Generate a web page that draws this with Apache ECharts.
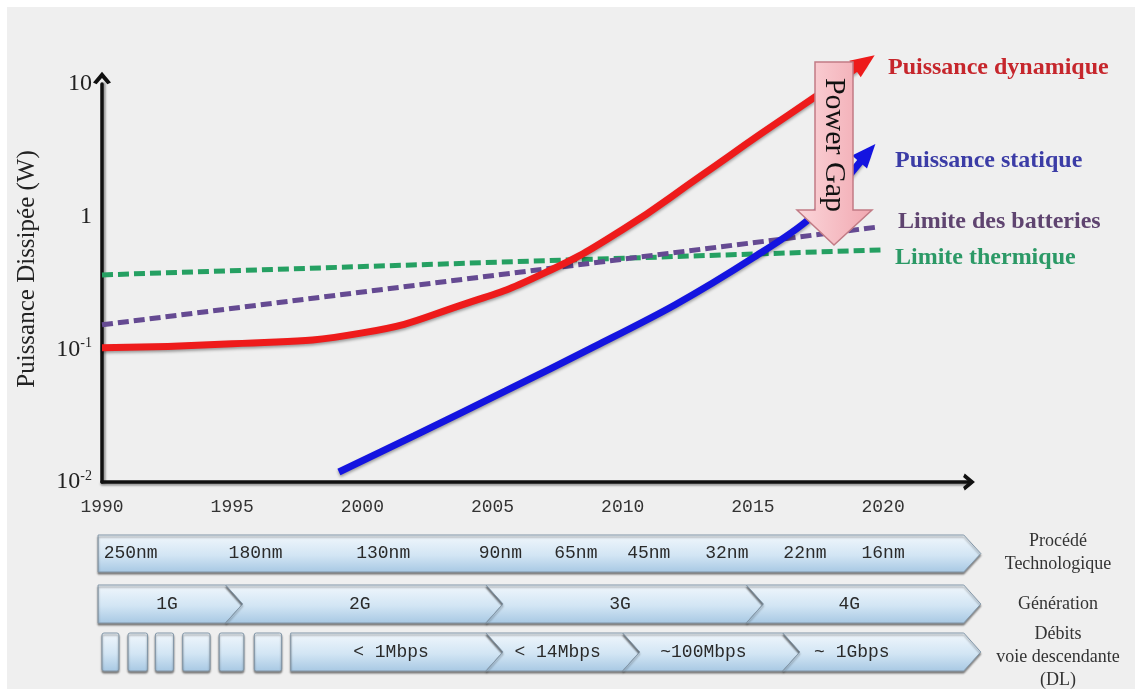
<!DOCTYPE html>
<html>
<head>
<meta charset="utf-8">
<title>Puissance dissipée</title>
<script src="https://cdn.jsdelivr.net/npm/echarts@6/dist/echarts.min.js"></script>
<style>
html, body { margin: 0; padding: 0; background: #fff; }
#main { width: 1135px; height: 689px; }
</style>
</head>
<body>
<div id="main"></div>
<script>
// courbes : années et puissance (W)
const dynYears = [1990, 1995, 2000, 2004, 2007, 2010, 2013, 2015.3, 2017.5, 2019.3];
const dynValues = [0.103, 0.110, 0.133, 0.222, 0.377, 0.80, 2.03, 4.2, 8.27, 14.6];
const statYears = [1999.1, 2002, 2005.5, 2009, 2012, 2015, 2017.2, 2019.4];
const statValues = [0.0119, 0.0224, 0.0486, 0.107, 0.216, 0.489, 0.977, 3.02];
const battYears = [1990, 2019.8];
const battValues = [0.153, 0.836];
const thermYears = [1990, 2019.9];
const thermValues = [0.364, 0.561];

// bandeaux du bas
const nodeLabels = ['250nm', '180nm', '130nm', '90nm', '65nm', '45nm', '32nm', '22nm', '16nm'];
const nodeYears = [1991.1, 1995.9, 2000.8, 2005.3, 2008.2, 2011.0, 2014.0, 2017.0, 2020.0];
const techSpan = [1989.85, 2023.1];
const genLabels = ['1G', '2G', '3G', '4G'];
const genBounds = [1989.85, 1994.75, 2004.75, 2014.75, 2023.1];
const genLabelYears = [1992.5, 1999.9, 2009.9, 2018.7];
const rateBoxes = [[1990.0, 1990.65], [1991.0, 1991.75], [1992.05, 1992.75], [1993.1, 1994.15], [1994.5, 1995.45], [1995.85, 1996.9]];
const rateLabels = ['< 1Mbps', '< 14Mbps', '~100Mbps', '~ 1Gbps'];
const rateBounds = [1997.25, 2004.75, 2010.0, 2016.15, 2023.1];
const rateLabelYears = [2001.1, 2007.5, 2013.1, 2018.8];

const SERIF = "'Liberation Serif', 'Times New Roman', serif";
const MONO = "'Liberation Mono', 'Courier New', monospace";

// la dernière valeur porte une pointe de flèche orientée selon le dernier segment
function lineData(xs, ys, rot) {
  return xs.map((x, i) => {
    if (i < xs.length - 1 || rot == null) return [x, ys[i]];
    return { value: [x, ys[i]], symbol: 'triangle', symbolSize: [20, 24], symbolRotate: rot };
  });
}

function headAngle(si, xs, ys) {
  const n = xs.length;
  const a = chart.convertToPixel({ seriesIndex: si }, [xs[n - 2], ys[n - 2]]);
  const b = chart.convertToPixel({ seriesIndex: si }, [xs[n - 1], ys[n - 1]]);
  return Math.atan2(a[1] - b[1], b[0] - a[0]) * 180 / Math.PI - 90;
}

const chart = echarts.init(document.getElementById('main'));

const option = {
  backgroundColor: '#efefef',
  animation: false,
  grid: { left: 102, right: 166, top: 84, bottom: 207 },
  xAxis: {
    type: 'value',
    min: 1990,
    max: 2023.3,
    interval: 5,
    splitLine: { show: false },
    axisTick: { show: false },
    axisLine: {
      onZero: false,
      symbol: ['none', 'path://M0,12 L10,0 L20,12 L16,14 L10,7 L4,14 Z'],
      symbolSize: [17, 14],
      lineStyle: { color: '#111', width: 3.5, shadowColor: 'rgba(0,0,0,0.35)', shadowOffsetY: 2, shadowBlur: 2 }
    },
    axisLabel: {
      margin: 16,
      fontFamily: MONO,
      fontSize: 18,
      color: '#333',
      showMaxLabel: false,
      formatter: v => (v % 5 === 0 ? String(v) : '')
    }
  },
  yAxis: {
    type: 'log',
    logBase: 10,
    min: 0.01,
    max: 10,
    splitLine: { show: false },
    axisTick: { show: false },
    axisLine: {
      symbol: ['none', 'path://M0,12 L10,0 L20,12 L16,14 L10,7 L4,14 Z'],
      symbolSize: [18, 15],
      symbolOffset: [0, 6],
      lineStyle: { color: '#111', width: 3.5, shadowColor: 'rgba(0,0,0,0.35)', shadowOffsetX: 2, shadowBlur: 2 }
    },
    name: 'Puissance Dissipée (W)',
    nameLocation: 'middle',
    nameRotate: 90,
    nameGap: 62,
    nameTextStyle: { fontFamily: SERIF, fontSize: 25, color: '#222', padding: [0, 0, 0, 28] },
    axisLabel: {
      margin: 10,
      formatter: function (v) {
        const e = Math.round(Math.log10(v));
        if (e >= 0) return '{b|' + Math.pow(10, e) + '}';
        return '{b|10}{s|' + e + '}';
      },
      rich: {
        b: { fontFamily: SERIF, fontSize: 24, color: '#222', lineHeight: 26 },
        s: { fontFamily: SERIF, fontSize: 14, color: '#222', verticalAlign: 'top', lineHeight: 14 }
      }
    }
  },
  series: [
    {
      name: 'Limite thermique',
      type: 'line',
      data: lineData(thermYears, thermValues),
      symbol: 'none',
      lineStyle: { color: '#25a062', width: 5, type: [11, 5] },
      z: 2
    },
    {
      name: 'Limite des batteries',
      type: 'line',
      data: lineData(battYears, battValues),
      symbol: 'none',
      lineStyle: { color: '#654a92', width: 5, type: [11, 5] },
      z: 2
    },
    {
      name: 'Puissance statique',
      type: 'line',
      data: lineData(statYears, statValues),
      smooth: 0.3,
      symbol: 'none',
      clip: false,
      itemStyle: { color: '#1414e0' },
      lineStyle: { color: '#1414e0', width: 7, shadowColor: 'rgba(0,0,0,0.35)', shadowBlur: 3, shadowOffsetY: 2 },
      z: 3
    },
    {
      name: 'Puissance dynamique',
      type: 'line',
      data: lineData(dynYears, dynValues),
      smooth: 0.5,
      symbol: 'none',
      clip: false,
      itemStyle: { color: '#ee1b1b' },
      lineStyle: { color: '#ee1b1b', width: 7, shadowColor: 'rgba(0,0,0,0.35)', shadowBlur: 3, shadowOffsetY: 2 },
      z: 4
    }
  ]
};

chart.setOption(option);

// pointes de flèche des deux courbes de puissance
chart.setOption({
  series: [
    {},
    {},
    { data: lineData(statYears, statValues, headAngle(2, statYears, statValues)) },
    { data: lineData(dynYears, dynValues, headAngle(3, dynYears, dynValues)) }
  ]
});

// ---- éléments graphiques : bandeaux, étiquettes, flèche "Power Gap"
const px = yr => chart.convertToPixel({ xAxisIndex: 0 }, yr);
const rows = [{ top: 535, h: 37 }, { top: 585, h: 38 }, { top: 633, h: 38 }];
const D = 17;

const bandStyle = {
  fill: new echarts.graphic.LinearGradient(0, 0, 0, 1, [
    { offset: 0, color: '#f1f7fc' },
    { offset: 0.55, color: '#d2e5f4' },
    { offset: 1, color: '#a7c8e3' }
  ]),
  stroke: '#8397a8',
  lineWidth: 1,
  shadowColor: 'rgba(0,0,0,0.45)',
  shadowOffsetY: 2,
  shadowBlur: 2
};

function chevron(y0, y1, row, notch) {
  const x0 = px(y0), x1 = px(y1);
  const top = row.top, bot = row.top + row.h, mid = row.top + row.h / 2;
  const pts = [[x0, top], [x1, top], [x1 + D, mid], [x1, bot], [x0, bot]];
  if (notch) pts.push([x0 + D, mid]);
  return { type: 'polygon', shape: { points: pts }, style: bandStyle, z: 10, silent: true };
}

function bandText(text, yr, row) {
  return {
    type: 'text', x: px(yr), y: row.top + row.h / 2, z: 11, silent: true,
    style: { text: text, font: '18px ' + MONO, fill: '#2a2a2a', align: 'center', verticalAlign: 'middle' }
  };
}

const graphics = [];
// liseré blanc en haut et à gauche
graphics.push({ type: 'rect', shape: { x: 0, y: 0, width: 1135, height: 7 }, style: { fill: '#fff' }, z: 50, silent: true });
graphics.push({ type: 'rect', shape: { x: 0, y: 0, width: 7, height: 689 }, style: { fill: '#fff' }, z: 50, silent: true });

// procédé technologique
graphics.push(chevron(techSpan[0], techSpan[1], rows[0], false));
nodeLabels.forEach((t, i) => graphics.push(bandText(t, nodeYears[i], rows[0])));

// génération
genLabels.forEach((t, i) => {
  graphics.push(chevron(genBounds[i], genBounds[i + 1], rows[1], i > 0));
  graphics.push(bandText(t, genLabelYears[i], rows[1]));
});

// débits
rateBoxes.forEach(b => {
  graphics.push({
    type: 'rect', z: 10, silent: true,
    shape: { x: px(b[0]), y: rows[2].top, width: px(b[1]) - px(b[0]), height: rows[2].h, r: 2 },
    style: bandStyle
  });
});
rateLabels.forEach((t, i) => {
  graphics.push(chevron(rateBounds[i], rateBounds[i + 1], rows[2], i > 0));
  graphics.push(bandText(t, rateLabelYears[i], rows[2]));
});

// titres des bandeaux
[['Procédé\nTechnologique', 553], ['Génération', 604], ['Débits\nvoie descendante\n(DL)', 657]].forEach(r => {
  graphics.push({
    type: 'text', x: 1058, y: r[1], z: 11, silent: true,
    style: { text: r[0], font: '18px ' + SERIF, fill: '#333', align: 'center', verticalAlign: 'middle', lineHeight: 23 }
  });
});

// noms des courbes
[
  ['Puissance dynamique', 888, 68, '#c6262c'],
  ['Puissance statique', 895, 161, '#3b3ca6'],
  ['Limite des batteries', 898, 222, '#5f4470'],
  ['Limite thermique', 895, 258, '#2b9966']
].forEach(l => {
  graphics.push({
    type: 'text', x: l[1], y: l[2], z: 20, silent: true,
    style: { text: l[0], font: 'bold 24px ' + SERIF, fill: l[3], align: 'left', verticalAlign: 'middle' }
  });
});

// flèche Power Gap
graphics.push({
  type: 'polygon', z: 30, silent: true,
  shape: { points: [[815, 62], [853, 62], [853, 210], [872, 210], [834, 245], [797, 210], [815, 210]] },
  style: {
    fill: new echarts.graphic.LinearGradient(0, 0, 1, 0, [
      { offset: 0, color: '#fbd6da' },
      { offset: 1, color: '#f1a7b0' }
    ]),
    stroke: '#c27b85',
    lineWidth: 1.5
  }
});
graphics.push({
  type: 'text', x: 834, y: 145, rotation: -Math.PI / 2, z: 31, silent: true,
  style: { text: 'Power Gap', font: '30px ' + SERIF, fill: '#111', align: 'center', verticalAlign: 'middle' }
});

chart.setOption({ graphic: graphics });
</script>
</body>
</html>
